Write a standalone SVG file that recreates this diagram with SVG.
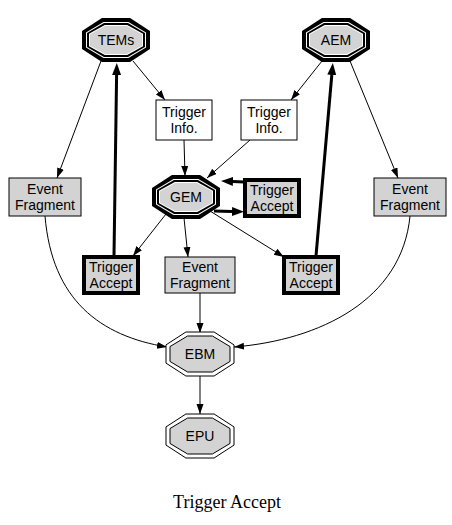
<svg xmlns="http://www.w3.org/2000/svg" xmlns:xlink="http://www.w3.org/1999/xlink" width="452" height="525" viewBox="0 0 452 525">
<style>
  .lbl { font-family: "Liberation Sans", Arial, sans-serif; font-size: 14px; fill: #000; text-anchor: middle; }
  .cap { font-family: "Liberation Serif", "Times New Roman", serif; font-size: 18px; fill: #000; text-anchor: middle; }
  .box { fill: #fff; stroke: #000; stroke-width: 1; }
  .gbox { fill: #d3d3d3; stroke: #000; stroke-width: 1; }
  .tbox { fill: #d3d3d3; stroke: #000; stroke-width: 4; }
  .e { fill: none; stroke: #000; stroke-width: 1; marker-end: url(#ah); }
  .eb { fill: none; stroke: #000; stroke-width: 3; marker-end: url(#ahb); }
</style>
<defs>
  <marker id="ah" markerUnits="userSpaceOnUse" markerWidth="11" markerHeight="8" refX="10" refY="3.5" orient="auto">
    <path d="M0,0 L10,3.5 L0,7 z" fill="#000"/>
  </marker>
  <marker id="ahb" markerUnits="userSpaceOnUse" markerWidth="13" markerHeight="10" refX="0" refY="4.5" orient="auto">
    <path d="M0,0 L12,4.5 L0,9 z" fill="#000"/>
  </marker>
  <g id="oct3">
    <polygon points="34,-9.11 34,9.11 14.08,22 -14.08,22 -34,9.11 -34,-9.11 -14.08,-22 14.08,-22" fill="#000"/>
    <polygon points="30,-7.46 30,7.46 12.43,18 -12.43,18 -30,7.46 -30,-7.46 -12.43,-18 12.43,-18" fill="#fff"/>
    <polygon points="29,-7.04 29,7.04 12.01,17 -12.01,17 -29,7.04 -29,-7.04 -12.01,-17 12.01,-17" fill="#000"/>
    <polygon points="27,-6.21 27,6.21 11.18,15 -11.18,15 -27,6.21 -27,-6.21 -11.18,-15 11.18,-15" fill="#fff"/>
    <polygon points="26,-5.8 26,5.8 10.77,14 -10.77,14 -26,5.8 -26,-5.8 -10.77,-14 10.77,-14" fill="#d3d3d3"/>
  </g>
  <g id="oct2">
    <polygon points="34,-9.11 34,9.11 14.08,22 -14.08,22 -34,9.11 -34,-9.11 -14.08,-22 14.08,-22" fill="#fff" stroke="#000" stroke-width="1"/>
    <polygon points="30,-7.46 30,7.46 12.43,18 -12.43,18 -30,7.46 -30,-7.46 -12.43,-18 12.43,-18" fill="#d3d3d3" stroke="#000" stroke-width="1"/>
  </g>
</defs>
<rect width="452" height="525" fill="#fff"/>

<g id="connectors">
  <path class="e" d="M133,61 L165,100"/>
  <path class="e" d="M322,61 L291,100"/>
  <path class="e" d="M184,140 L185,176"/>
  <path class="e" d="M250,140 L207,178"/>
  <path class="e" d="M101,61 L57,178"/>
  <path class="e" d="M350,61 L398,178"/>
  <path class="eb" d="M114,256 L116.6,75"/>
  <path class="eb" d="M316,256 L331.8,75"/>
  <path class="eb" d="M244,182 L233,181.5"/>
  <path class="eb" d="M214,211 L232,211.5"/>
  <path class="e" d="M166,214 L133,256"/>
  <path class="e" d="M184,218 L188,257"/>
  <path class="e" d="M210,211 L284,257"/>
  <path class="e" d="M45,216 C52,300 100,336 167,347"/>
  <path class="e" d="M410,216 C402,300 320,340 234,347"/>
  <path class="e" d="M200,293 L200,333"/>
  <path class="e" d="M200,376 L200,414"/>
</g>

<g id="TEMs">
  <use xlink:href="#oct3" href="#oct3" transform="translate(116,40)"/>
  <text class="lbl" x="116" y="45">TEMs</text>
</g>
<g id="AEM">
  <use xlink:href="#oct3" href="#oct3" transform="translate(336,40)"/>
  <text class="lbl" x="336" y="45">AEM</text>
</g>
<g id="TriggerInfoL">
  <rect class="box" x="156" y="100" width="56" height="40"/>
  <text class="lbl" x="184" y="117">Trigger</text>
  <text class="lbl" x="184" y="133">Info.</text>
</g>
<g id="TriggerInfoR">
  <rect class="box" x="241" y="100" width="56" height="40"/>
  <text class="lbl" x="269" y="117">Trigger</text>
  <text class="lbl" x="269" y="133">Info.</text>
</g>
<g id="GEM">
  <use xlink:href="#oct3" href="#oct3" transform="translate(186,197)"/>
  <text class="lbl" x="186" y="202">GEM</text>
</g>
<g id="TriggerAcceptGEM">
  <rect class="tbox" x="245" y="180" width="54" height="36"/>
  <text class="lbl" x="272" y="195">Trigger</text>
  <text class="lbl" x="272" y="211">Accept</text>
</g>
<g id="EventFragmentL">
  <rect class="gbox" x="9" y="178" width="72" height="38"/>
  <text class="lbl" x="45" y="194">Event</text>
  <text class="lbl" x="45" y="210">Fragment</text>
</g>
<g id="EventFragmentR">
  <rect class="gbox" x="374" y="178" width="72" height="38"/>
  <text class="lbl" x="410" y="194">Event</text>
  <text class="lbl" x="410" y="210">Fragment</text>
</g>
<g id="TriggerAcceptL">
  <rect class="tbox" x="84" y="257" width="54" height="36"/>
  <text class="lbl" x="111" y="272">Trigger</text>
  <text class="lbl" x="111" y="288">Accept</text>
</g>
<g id="EventFragmentM">
  <rect class="gbox" x="165" y="257" width="70" height="36"/>
  <text class="lbl" x="200" y="272">Event</text>
  <text class="lbl" x="200" y="288">Fragment</text>
</g>
<g id="TriggerAcceptR">
  <rect class="tbox" x="284" y="257" width="54" height="36"/>
  <text class="lbl" x="311" y="272">Trigger</text>
  <text class="lbl" x="311" y="288">Accept</text>
</g>
<g id="EBM">
  <use xlink:href="#oct2" href="#oct2" transform="translate(200,354)"/>
  <text class="lbl" x="200" y="359">EBM</text>
</g>
<g id="EPU">
  <use xlink:href="#oct2" href="#oct2" transform="translate(200,436)"/>
  <text class="lbl" x="200" y="441">EPU</text>
</g>
<text class="cap" x="227" y="508">Trigger Accept</text>
</svg>
